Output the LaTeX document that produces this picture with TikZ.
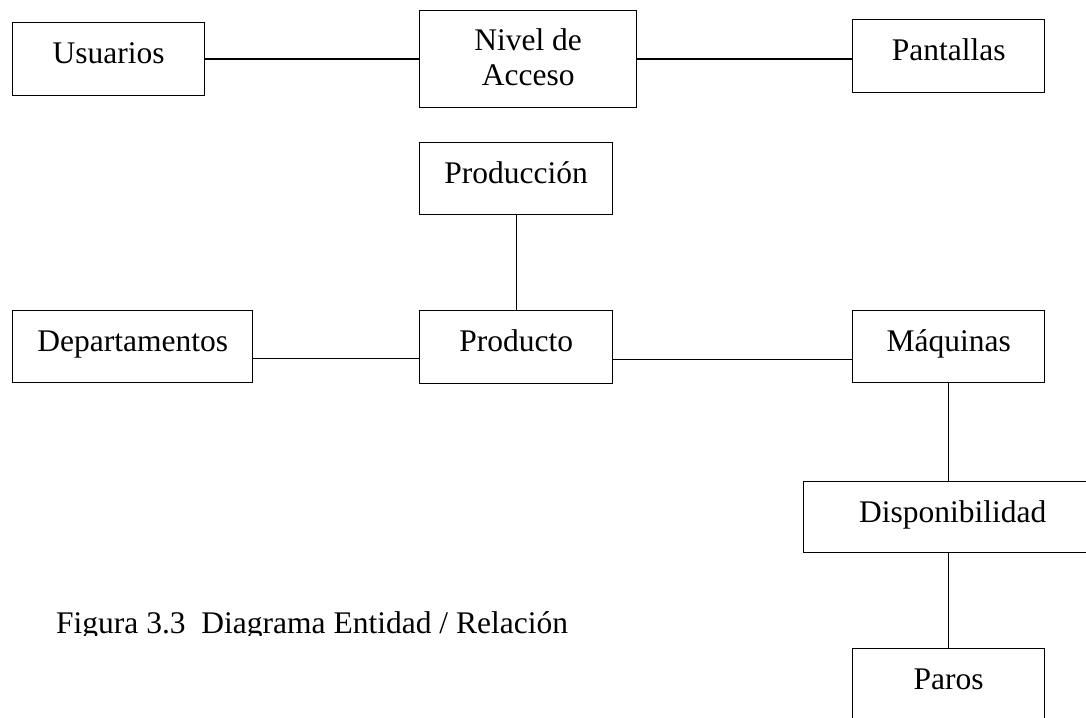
\documentclass[tikz,border=0pt]{standalone}
\usepackage{fontspec}
\setmainfont{Liberation Serif}
\tikzset{
	entidad/.style={draw, line width=1.3pt, rectangle, inner sep=0pt, anchor=north west,
		align=center, text height=41pt, font=\fontsize{31.5}{35}\selectfont},
	liga/.style={line width=1.3pt}
}
\begin{document}
\begin{tikzpicture}[x=1pt,y=-1pt]
		\clip (0,0) rectangle (1086,717);

		\node[entidad, minimum width=192pt, text depth=32pt] (usu) at (12,22) {Usuarios};
		\node[entidad, minimum width=217pt, text height=75pt, text depth=22pt] (niv) at (419,10) {Nivel de\\Acceso};
		\node[entidad, minimum width=192pt, text depth=32pt] (pan) at (852,19) {Pantallas};

		\node[entidad, minimum width=193pt, text depth=31pt] (prodn) at (419,142) {Producción};

		\node[entidad, minimum width=240pt, text depth=31pt] (dep) at (12,310) {Departamentos};
		\node[entidad, minimum width=193pt, text depth=32pt] (prod) at (419,310) {Producto};
		\node[entidad, minimum width=192pt, text depth=31pt] (maq) at (852,310) {Máquinas};

		\node[entidad, minimum width=298pt, text depth=30pt] (disp) at (803,481) {Disponibilidad};
		\node[entidad, minimum width=192pt, text depth=32pt] (paros) at (852,648) {Paros};

		\draw[liga] (usu.east) -- (niv.west);
		\draw[liga] (niv.east) -- (niv.east -| pan.west);
		\draw[liga] (prodn.south) -- (prod.north);
		\draw[liga] ([yshift=-12pt]dep.east) -- ([yshift=-12pt]dep.east -| prod.west);
		\draw[liga] ([yshift=-12pt]prod.east) -- ([yshift=-12pt]prod.east -| maq.west);
		\draw[liga] (maq.south) -- (maq.south |- disp.north);
		\draw[liga] (paros.north |- disp.south) -- (paros.north);

		\begin{scope}
			\clip (0,500) rectangle (780,635);
			\node[anchor=base west, inner sep=0pt, font=\fontsize{31.5}{35}\selectfont] (pie) at (56,633)
				{Figura 3.3\ \ Diagrama Entidad / Relación};
		\end{scope}
\end{tikzpicture}
\end{document}
